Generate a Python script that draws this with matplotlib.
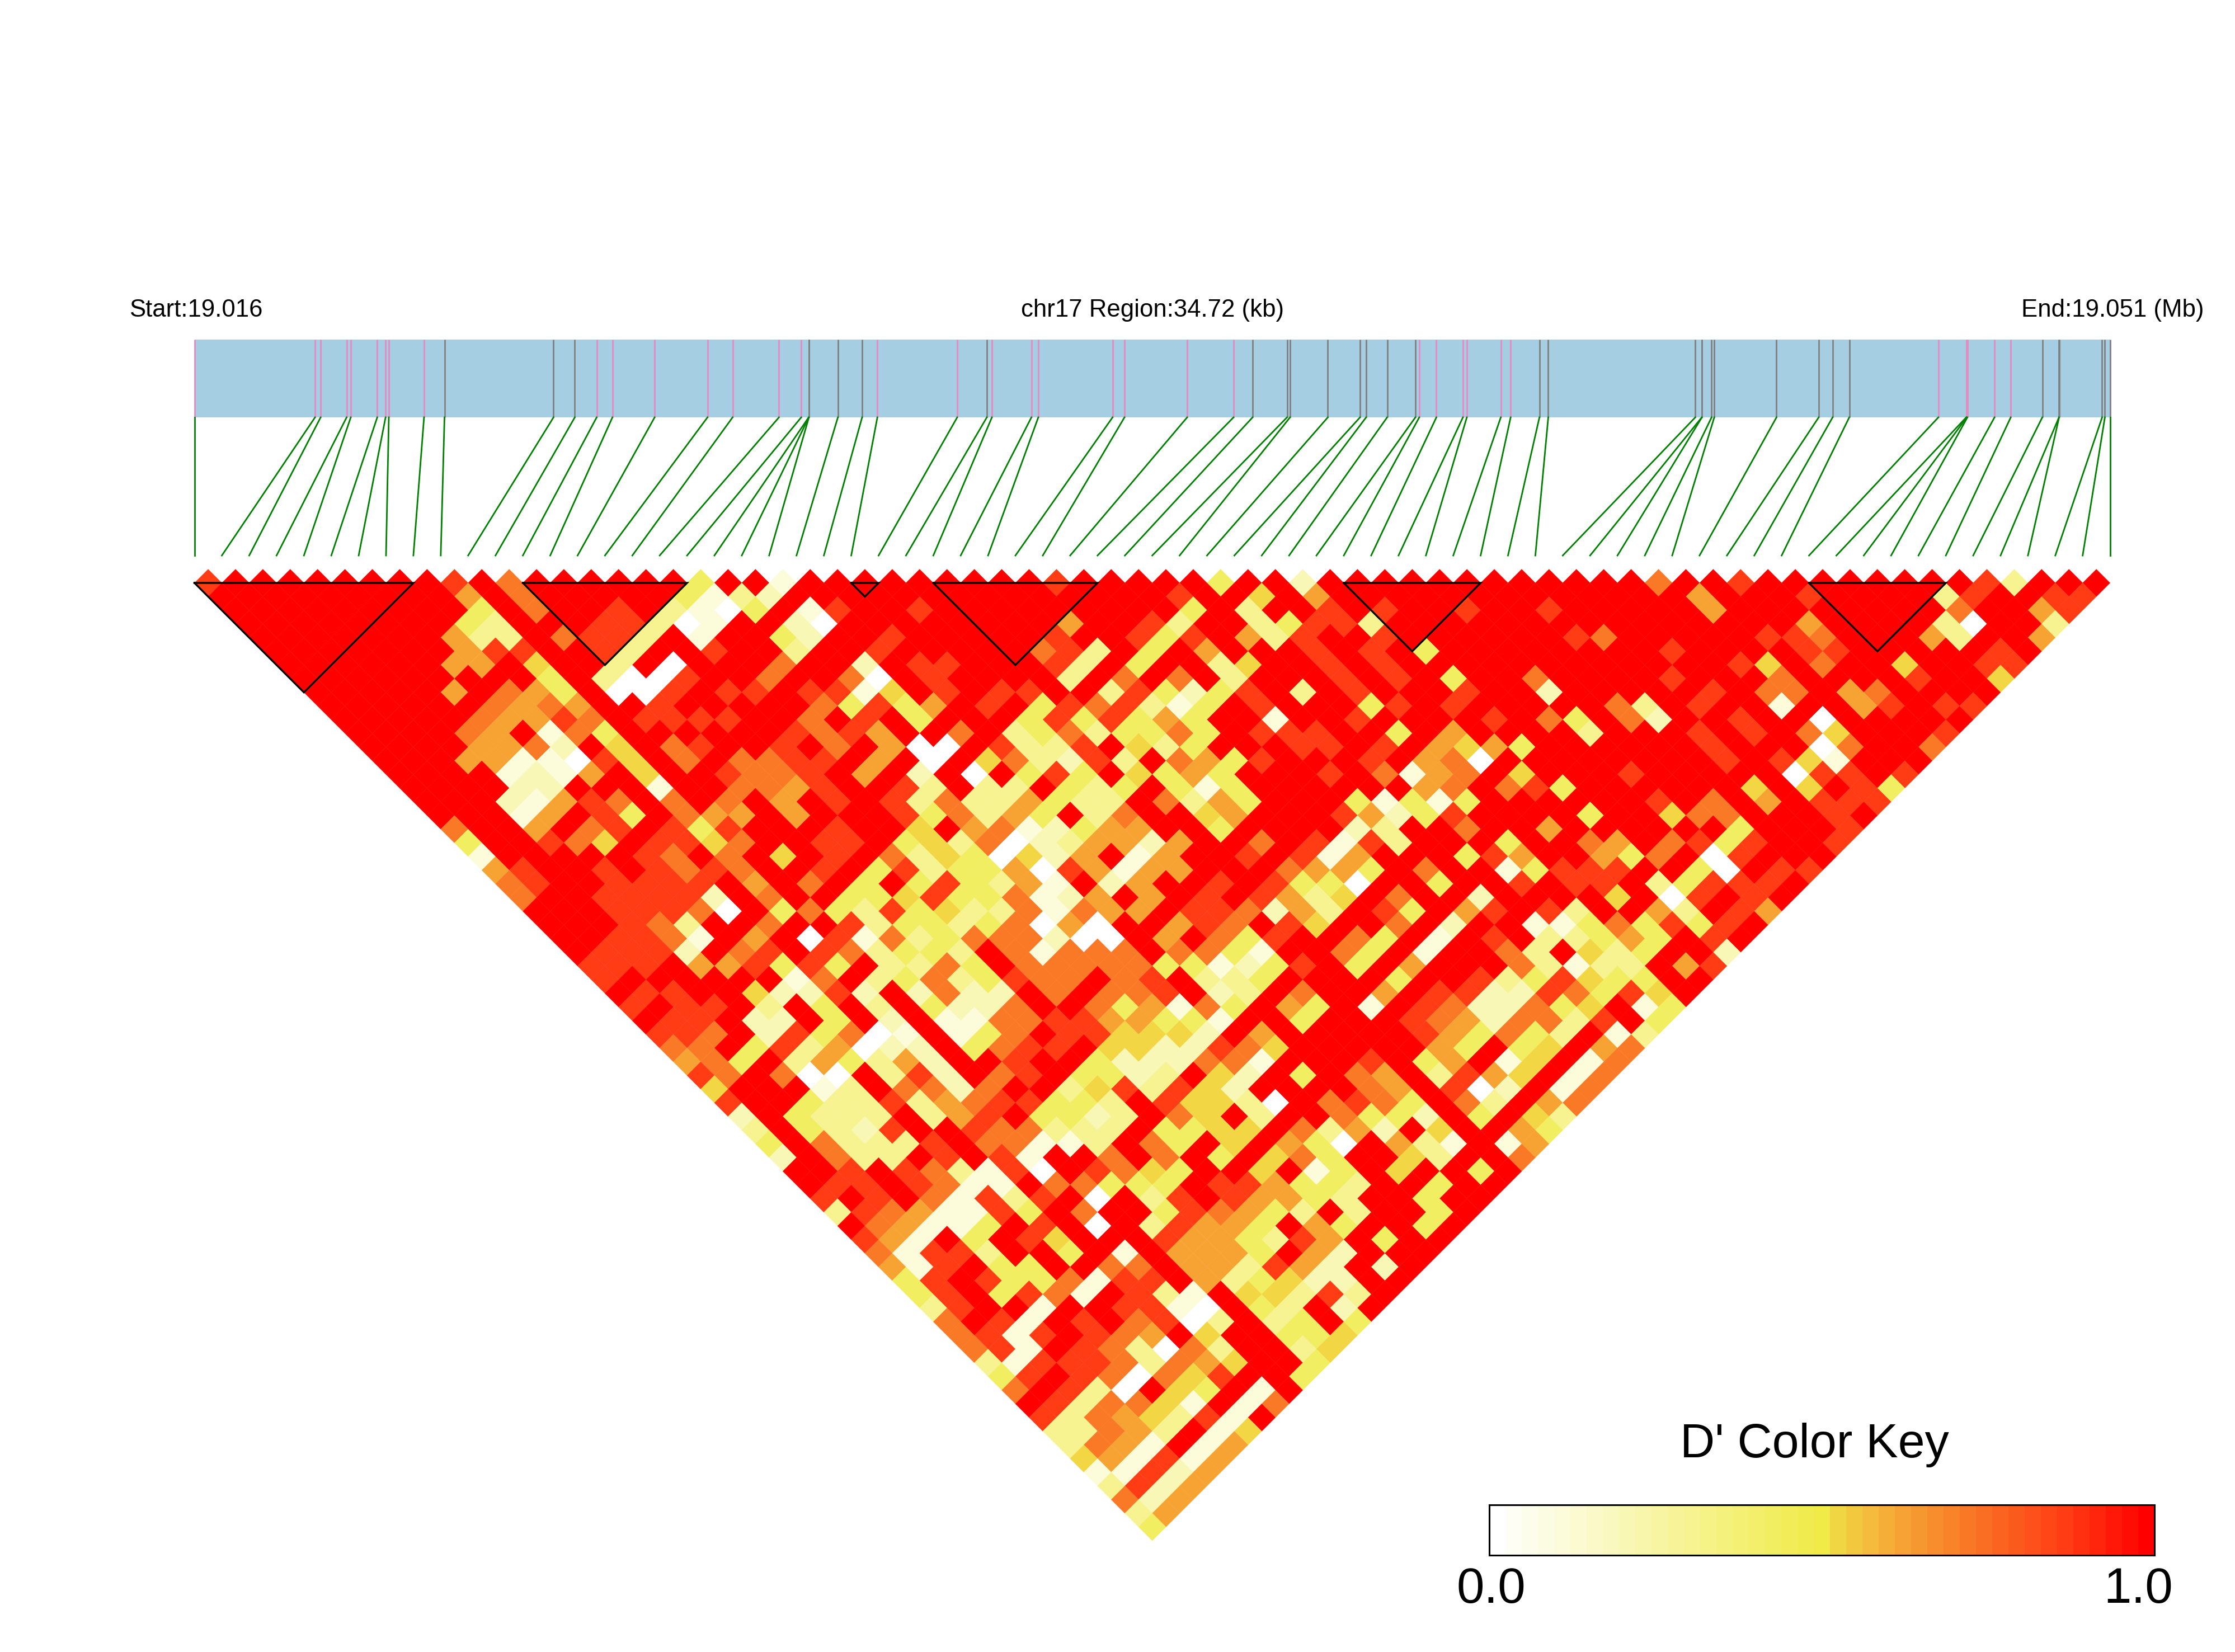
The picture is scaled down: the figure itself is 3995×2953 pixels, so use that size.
import matplotlib
matplotlib.use("Agg")
import numpy as np
import matplotlib.pyplot as plt
from matplotlib.collections import PolyCollection
from matplotlib.colors import LinearSegmentedColormap

plt.rcParams['font.family'] = ['Liberation Sans', 'DejaVu Sans']

# SNP positions along the region, in kb from the start
snp_kb = [0, 2.186, 2.287, 2.758, 2.833, 3.313, 3.464, 3.523, 4.161, 4.532,
          6.508, 6.894, 7.290, 7.576, 8.341, 9.299, 9.754, 10.594, 10.998, 11.133,
          11.135, 11.137, 11.662, 12.101, 12.378, 13.825, 14.362, 14.454, 15.170, 15.295,
          16.641, 16.857, 17.993, 18.834, 19.179, 19.803, 19.858, 20.543, 21.126, 21.237,
          21.618, 22.130, 22.200, 22.510, 22.991, 23.062, 23.678, 23.856, 24.378, 24.538,
          27.203, 27.321, 27.323, 27.498, 27.547, 28.675, 29.440, 29.692, 29.994, 31.609,
          32.114, 32.125, 32.135, 32.627, 32.921, 33.493, 33.795, 33.797, 34.577, 34.627,
          34.72]
snp_type = "PPPPPPPPPGGGPPPPPPPGGGGGPPGPPPPPPPGGGGGGGGPPPPPPGGGGGGGGGGGPPPPPPGGGGGG"

# LD blocks as (first SNP, last SNP)
blocks = [(0, 8), (12, 18), (24, 25), (27, 33), (42, 47), (59, 64)]

# D' digit codes -> D' value
levels = [0.02, 0.10, 0.20, 0.30, 0.42, 0.53, 0.62, 0.72, 0.86, 1.0]

# one string per distance between SNPs (1, 2, ...), indexed by the first SNP
dprime_rows = [
    "8999999998 9799999949 9199999999 9899999499 2999999999 9997998999 9999983999",
    "9999999996 9799999413 2999999999 9999989959 6999999999 999 9699989999389988",
    "9999999994 9799893104 9189989999 9999949399 8989989989 999 969999999979968",
    "9999999943 9998830199 2099999999 6998399348 8399999999 99 999996999930993",
    "9999999633 9788391994 2998999998 9984896389 9899999987 99 99988799963996",
    "9999999688 9983998993 9989999978 3949699989 8949999999 9 89999889999989",
    "9999996695 9939099979 9298899983 9499359989 8999999999 9 9985979959988",
    "9999999994 9300899799 7098999939 7979399989 8949979999 8999799998995",
    "9999969764 9008988988 1598988993 8424893989 9989929999 989779679999",
    "9999997676 9989999974 8469894878 3149899948 989999973 989919968988",
    "9999976687 9888899798 9499948484 6499199899 998974972 99899099999",
    "9999769174 9999998786 9979347344 74 9888994969999399989 89759998",
    "9999667295 9789989796 0098338953 49 9988989656499999989 9907997",
    "9996611085 9797788969 0957328397 6 4899989670999999998 9851999",
    "9999121695 9987789692 9094849546 4 9998971679599989999 908898",
    "9999229991 9977689983 9339434941 4999999679784999999 595984",
    "9992168797 9796989837 3364339736 4999414149999998979 69888",
    "9991698497 6696999847 364937995 6999862489999499577 99989",
    "7996978984 8999899596 712466994 9999239979969999994 9998",
    "4998759885 7998894537 02366269 9798183999499769784 8998",
    "1999998797 9598973540 52691699 8981699948699647908 999",
    "6899898787 9989483446 0861669 9976649799148889940 988",
    "7899888896 9794948436 1926998 9844099499898893488 89",
    "7998888297 9944584471 269698 9863597992999959089 89",
    "9998887094 7438453371 766988 7263984968983996398 6",
    "9998739979 9834434706 09968 7985997929911474848 9",
    "9988719690 8173477720 09697 4899749198933464989",
    "9888297898 7344397177 7977 4199749199739534992",
    "8889668484 9337497777 7441 248949699973133968",
    "8999999179 3473487797 893 349999499834854499",
    "9889952282 9272297977 892 39799698822874859",
    "8988939493 9422799746 17 49649198722745914",
    "9889229492 9117788664 41 9949998762773894",
    "8879284701 9147988555 2 9699999864743913",
    "7794836022 9478895522 8 759999964945967",
    "6749364362 9989942227 719998946915917",
    "8797009382 9789442395 29497693865917",
    "5999139772 799358385 29999769802917",
    "8994338367 884439855 3097874973967",
    "2943339368 94423975 9399744294953",
    "3943289987 73339445 597362959964",
    "4973338977 1139749 596409631916",
    "2973398981 9979794 95749953997",
    "9989873180 987549 95914959949",
    "9889871197 7444988644 399499",
    "8989718389 0938986643 99499",
    "3876118497 9948764393 9949",
    "9761149890 9386649649 949",
    "8619498599 9866438694 99",
    "7188399491 9666496299 9",
    "6189449977 9663862929",
    "489844718 8963452299",
    "489487198 319553839",
    "38991998810943929",
    "7981989780393494",
    "781898769599445",
    "78198730739935",
    "3188873765994",
    "489870758994",
    "79830954919",
    "9837751917",
    "837653819",
    "33763915",
    "3761916",
    "561816",
    "11826",
    "3826",
    "726",
    "36",
    "4",
]

# layout in pixels of the final image
W, H = 3995, 2953
x0, x1 = 347.6, 3771.6
band_top, band_bot = 607, 746
link_bot = 993
tri_top = 1042

colors = [(0, "#FFFFFF"), (0.5, "#F0EB46"), (0.53, "#F2D243"), (0.62, "#F6A535"),
          (0.75, "#FA6E23"), (0.875, "#FF3C14"), (1, "#FF0000")]
cmap = LinearSegmentedColormap.from_list("dprime", colors, N=41)

fig = plt.figure(figsize=(W / 100, H / 100), dpi=100)
ax = fig.add_axes([0, 0, 1, 1])
ax.set_xlim(0, W)
ax.set_ylim(H, 0)
ax.axis("off")

n = len(snp_kb)
pitch = (x1 - x0) / (n - 1)
half = pitch / 2
kb_scale = (x1 - x0) / snp_kb[-1]

# gene band with SNP ticks and links down to the matrix
ax.fill_between([x0, x1], band_top, band_bot, color="#A6CEE3", lw=0, zorder=1)
for k, kb in enumerate(snp_kb):
    xb = x0 + kb * kb_scale
    tick_col = "#E78AC3" if snp_type[k] == "P" else "#808080"
    ax.plot([xb, xb], [band_top, band_bot], color=tick_col, lw=2, zorder=2, solid_capstyle="butt")
    ax.plot([xb, x0 + k * pitch], [band_bot, link_bot], color="#008000", lw=2, zorder=2)

# LD triangle
polys = []
vals = []
for d, row in enumerate(dprime_rows, start=1):
    row = row.replace(" ", "")
    row = row.ljust(n - d, "9")[:n - d]
    for i, c in enumerate(row):
        cx = x0 + pitch * (i + d / 2)
        cy = tri_top + half * (d - 1)
        polys.append([(cx - half, cy), (cx, cy - half), (cx + half, cy), (cx, cy + half)])
        vals.append(levels[int(c)])
cells = PolyCollection(polys, array=np.array(vals), cmap=cmap, clim=(0, 1),
                       edgecolors="face", linewidths=0.3, zorder=3)
ax.add_collection(cells)

for s, e in blocks:
    xs = x0 + s * pitch
    xe = x0 + e * pitch
    ax.plot([xs, xe, (xs + xe) / 2, xs], [tri_top, tri_top, tri_top + (e - s) * half, tri_top],
            color="black", lw=2.4, zorder=4, solid_joinstyle="miter")

# header labels
ax.text(231, 566, "Start:19.016", fontsize=31.5, ha="left", va="baseline")
ax.text(2060, 566, "chr17 Region:34.72 (kb)", fontsize=31.5, ha="center", va="baseline")
ax.text(3613, 566, "End:19.051 (Mb)", fontsize=31.5, ha="left", va="baseline")

# colour key
cax = fig.add_axes([2662 / W, 1 - 2780 / H, (3851 - 2662) / W, (2780 - 2690) / H])
cax.imshow(np.linspace(0, 1, 41).reshape(1, -1), cmap=cmap, aspect="auto", vmin=0, vmax=1)
cax.set_xticks([])
cax.set_yticks([])
for sp in cax.spines.values():
    sp.set_linewidth(2.2)
ax.text(3243, 2605, "D' Color Key", fontsize=62, ha="center", va="baseline")
ax.text(2665, 2865, "0.0", fontsize=64, ha="center", va="baseline")
ax.text(3822, 2865, "1.0", fontsize=64, ha="center", va="baseline")

fig.savefig("out.png", dpi=100)
